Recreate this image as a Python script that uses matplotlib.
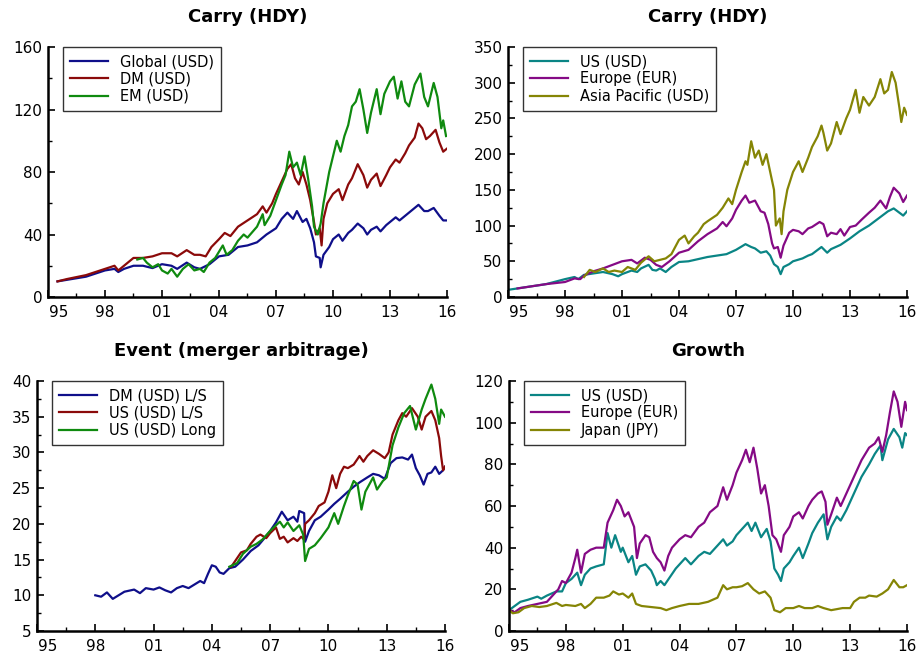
import matplotlib
matplotlib.use("Agg")
import matplotlib.pyplot as plt
from matplotlib.ticker import MultipleLocator, FuncFormatter
import numpy as np

# ---- Carry (HDY), left panel ----
glob_t = [1995.5, 1996, 1997, 1998, 1998.5, 1998.7, 1999, 1999.5, 2000, 2000.5, 2001, 2001.5, 2001.8,
          2002.3, 2002.7, 2003, 2003.5, 2004, 2004.5, 2005, 2005.5, 2006, 2006.5, 2007, 2007.3, 2007.6,
          2007.9, 2008.1, 2008.4, 2008.6, 2008.8, 2009.0, 2009.1, 2009.3, 2009.35, 2009.5, 2009.8, 2010,
          2010.3, 2010.5, 2010.8, 2011.0, 2011.3, 2011.6, 2011.8, 2012.0, 2012.3, 2012.5, 2012.8, 2013.0,
          2013.3, 2013.5, 2013.8, 2014.0, 2014.5, 2014.8, 2015.0, 2015.3, 2015.6, 2015.8, 2016]
glob_v = [10, 11, 13, 17, 18, 16, 18, 20, 20, 18.5, 21, 20, 18,
          22, 19, 18, 21, 26, 27, 32, 33, 35, 40, 44, 50, 54,
          50, 55, 48, 50, 44, 35, 26, 25, 19, 27, 32, 37,
          40, 36, 41, 43, 47, 44, 40, 43, 45, 42, 46, 48,
          51, 49, 52, 54, 59, 55, 55, 57, 52, 49, 49]

dm_t = [1995.5, 1996, 1997, 1997.5, 1998, 1998.5, 1998.7, 1999, 1999.5, 2000, 2000.5, 2001, 2001.5, 2001.8,
        2002.3, 2002.7, 2003, 2003.3, 2003.6, 2004, 2004.3, 2004.6, 2005, 2005.5, 2006, 2006.3, 2006.5,
        2006.8, 2007, 2007.3, 2007.6, 2007.8, 2008.0, 2008.2, 2008.4, 2008.6, 2008.8, 2009.0, 2009.1,
        2009.3, 2009.4, 2009.5, 2009.7, 2010, 2010.3, 2010.5, 2010.8, 2011.0, 2011.3, 2011.6, 2011.8,
        2012.0, 2012.3, 2012.5, 2012.8, 2013.0, 2013.3, 2013.5, 2013.8, 2014.0, 2014.3, 2014.5, 2014.7,
        2014.9, 2015.1, 2015.4, 2015.6, 2015.8, 2016]
dm_v = [10, 11.5, 14, 16, 18, 20, 17, 20, 25, 25, 26, 28, 28, 26,
        30, 27, 27, 26, 32, 37, 41, 39, 45, 49, 53, 58, 54,
        60, 66, 74, 82, 85, 76, 72, 80, 72, 62, 48, 40,
        44, 33, 50, 60, 66, 69, 62, 72, 76, 85, 78, 70,
        75, 79, 71, 78, 83, 88, 86, 92, 97, 102, 111, 108,
        101, 103, 107, 99, 93, 95]

em_t = [1999.7, 2000.0, 2000.2, 2000.5, 2000.8, 2001.0, 2001.3, 2001.5, 2001.8, 2002.1, 2002.4, 2002.7,
        2003.0, 2003.2, 2003.5, 2003.8, 2004.0, 2004.2, 2004.4, 2004.7, 2005.0, 2005.3, 2005.5, 2006,
        2006.3, 2006.4, 2006.7, 2007.0, 2007.3, 2007.5, 2007.7, 2007.9, 2008.1, 2008.3, 2008.5, 2008.7,
        2008.9, 2009.0, 2009.2, 2009.35, 2009.5, 2009.8, 2010.0, 2010.2, 2010.4, 2010.6, 2010.8, 2011.0,
        2011.2, 2011.4, 2011.6, 2011.8, 2012.0, 2012.3, 2012.5, 2012.7, 2013.0, 2013.2, 2013.4, 2013.6,
        2013.8, 2014.0, 2014.3, 2014.6, 2014.8, 2015.0, 2015.3, 2015.5, 2015.7, 2015.8, 2015.95]
em_v = [24, 25, 22, 19, 21, 17, 15, 18, 13, 18, 21, 17,
        18, 16, 22, 25, 29, 33, 27, 30, 36, 40, 38, 45,
        53, 46, 52, 62, 72, 78, 93, 83, 86, 78, 90, 75,
        58, 45, 40, 47, 60, 80, 90, 100, 93, 103, 110, 122,
        125, 133, 120, 105, 118, 133, 117, 130, 138, 141, 127, 138,
        125, 122, 136, 143, 128, 122, 137, 128, 108, 113, 103]

# ---- Carry (HDY), right panel ----
us_t = [1995.0, 1996, 1997, 1998, 1998.5, 1998.7, 1999, 1999.5, 2000, 2000.5, 2000.8, 2001, 2001.5,
        2001.8, 2002.0, 2002.4, 2002.6, 2002.8, 2003.0, 2003.3, 2003.6, 2004, 2004.5, 2005, 2005.5,
        2006, 2006.5, 2007, 2007.5, 2007.8, 2008.0, 2008.3, 2008.6, 2008.8, 2009.0, 2009.2, 2009.35,
        2009.5, 2009.8, 2010, 2010.5, 2010.8, 2011.0, 2011.5, 2011.8, 2012.0, 2012.5, 2013, 2013.5,
        2014, 2014.5, 2015, 2015.3, 2015.6, 2015.8, 2016]
us_v = [10, 14, 18, 25, 28, 25, 31, 33, 35, 32, 29, 32, 37,
        35, 40, 45, 38, 37, 40, 35, 42, 49, 50, 53, 56,
        58, 60, 66, 74, 70, 68, 62, 64, 58, 46, 42, 32,
        42, 46, 50, 54, 58, 60, 70, 62, 67, 73, 82, 92,
        100, 110, 120, 124, 118, 114, 120]

eu_t = [1995.5, 1996, 1997, 1998, 1998.5, 1998.8, 1999.0, 1999.5, 2000, 2000.5, 2001, 2001.5, 2001.8,
        2002.2, 2002.5, 2002.8, 2003.1, 2003.5, 2004, 2004.5, 2005, 2005.5, 2006, 2006.3, 2006.5, 2006.8,
        2007.0, 2007.3, 2007.5, 2007.7, 2008.0, 2008.3, 2008.5, 2008.7, 2008.9, 2009.0, 2009.2, 2009.35,
        2009.5, 2009.8, 2010.0, 2010.3, 2010.5, 2010.8, 2011.0, 2011.4, 2011.6, 2011.8, 2012.0, 2012.3,
        2012.5, 2012.7, 2013.0, 2013.3, 2013.6, 2014.0, 2014.3, 2014.6, 2014.9, 2015.1, 2015.3, 2015.6,
        2015.8, 2016]
eu_v = [12, 14, 18, 21, 26, 25, 30, 36, 40, 45, 50, 52, 47,
        55, 52, 45, 42, 50, 62, 66, 78, 88, 96, 105, 99, 110,
        122, 135, 142, 132, 135, 120, 118, 102, 75, 68, 70, 55,
        72, 90, 94, 92, 88, 96, 98, 105, 102, 85, 90, 88,
        95, 86, 98, 100, 108, 118, 125, 135, 124, 140, 153, 145,
        133, 142]

ap_t = [1999.0, 1999.3, 1999.6, 2000.0, 2000.3, 2000.6, 2001.0, 2001.3, 2001.7, 2002.0, 2002.4, 2002.7,
        2003.0, 2003.3, 2003.6, 2004.0, 2004.3, 2004.5, 2004.8, 2005.0, 2005.3, 2005.5, 2006.0, 2006.3,
        2006.6, 2006.8, 2007.0, 2007.3, 2007.5, 2007.6, 2007.8, 2008.0, 2008.2, 2008.4, 2008.6, 2008.8,
        2009.0, 2009.1, 2009.3, 2009.4, 2009.5, 2009.7, 2010.0, 2010.3, 2010.5, 2010.8, 2011.0, 2011.3,
        2011.5, 2011.6, 2011.8, 2012.0, 2012.3, 2012.5, 2012.8, 2013.0, 2013.3, 2013.5, 2013.7, 2014.0,
        2014.3, 2014.6, 2014.8, 2015.0, 2015.2, 2015.4, 2015.6, 2015.7, 2015.85, 2016]
ap_v = [28, 38, 35, 40, 35, 37, 35, 42, 38, 48, 57, 50,
        52, 54, 60, 80, 86, 75, 85, 90, 102, 106, 115, 125,
        138, 130, 150, 175, 190, 185, 218, 195, 205, 185, 200, 175,
        150, 100, 110, 88, 120, 150, 175, 190, 175, 195, 210, 225,
        240, 230, 205, 215, 245, 228, 250, 262, 290, 258, 280, 268,
        280, 305, 285, 290, 315, 300, 265, 245, 265, 255]

# ---- Event (merger arbitrage) ----
dmls_t = [1998.0, 1998.3, 1998.6, 1998.9, 1999.2, 1999.5, 2000.0, 2000.3, 2000.6, 2001.0, 2001.3, 2001.6,
          2001.9, 2002.2, 2002.5, 2002.8, 2003.1, 2003.4, 2003.6, 2003.8, 2004.0, 2004.2, 2004.4, 2004.6,
          2004.9, 2005.2, 2005.6, 2006.0, 2006.4, 2006.8, 2007.0, 2007.3, 2007.6, 2007.9, 2008.2, 2008.4,
          2008.5, 2008.75, 2008.8, 2009.0, 2009.3, 2009.6, 2010.0, 2010.3, 2010.6, 2011.0, 2011.3, 2011.6,
          2012.0, 2012.3, 2012.6, 2012.9, 2013.2, 2013.5, 2013.8, 2014.1, 2014.3, 2014.5, 2014.7, 2014.9,
          2015.1, 2015.3, 2015.5, 2015.7, 2015.9, 2016]
dmls_v = [10.0, 9.8, 10.4, 9.5, 10.0, 10.5, 10.8, 10.3, 11.0, 10.8, 11.1, 10.7,
          10.4, 11.0, 11.3, 11.0, 11.5, 12.0, 11.7, 13.0, 14.2, 14.0, 13.2, 13.0,
          13.8, 14.0, 15.0, 16.2, 17.0, 18.3, 19.0, 20.2, 21.7, 20.5, 21.0, 20.3,
          21.8, 21.5, 17.5, 19.0, 20.5, 21.0, 22.0, 22.8, 23.5, 24.5, 25.2, 25.8,
          26.5, 27.0, 26.8, 26.3, 28.5, 29.2, 29.3, 29.0, 29.7, 27.8, 26.8, 25.5,
          27.0, 27.2, 28.0, 27.0, 27.5, 28.0]

usls_t = [2005.0, 2005.2, 2005.5, 2005.8, 2006.0, 2006.3, 2006.5, 2006.8, 2007.0, 2007.3, 2007.5, 2007.7,
          2007.9, 2008.2, 2008.4, 2008.6, 2008.75, 2008.8, 2009.0, 2009.3, 2009.5, 2009.8, 2010.0, 2010.2,
          2010.4, 2010.6, 2010.8, 2011.0, 2011.3, 2011.6, 2011.8, 2012.0, 2012.3, 2012.6, 2012.9, 2013.1,
          2013.3, 2013.6, 2013.8, 2014.0, 2014.3, 2014.6, 2014.8, 2015.0, 2015.3, 2015.5, 2015.7, 2015.8,
          2015.9, 2016]
usls_v = [14.0, 14.8, 16.0, 16.3, 17.2, 18.2, 18.5, 18.0, 18.7, 19.5, 17.9, 18.2,
          17.4, 18.0, 17.6, 18.2, 17.8, 20.0, 20.5, 21.5, 22.5, 23.0, 24.5, 26.8,
          25.0, 27.0, 28.0, 27.8, 28.3, 29.5, 28.7, 29.5, 30.3, 29.8, 29.2, 30.0,
          32.5, 34.5, 35.5, 35.0, 36.2, 35.0, 33.2, 35.0, 35.8, 34.5, 32.0, 29.5,
          27.5, 28.0]

uslong_t = [2004.9, 2005.3, 2005.6, 2006.0, 2006.3, 2006.6, 2007.0, 2007.3, 2007.5, 2007.7, 2007.9, 2008.2,
            2008.5, 2008.7, 2008.8, 2009.0, 2009.3, 2009.6, 2010.0, 2010.3, 2010.5, 2010.8, 2011.0, 2011.3,
            2011.5, 2011.7, 2011.9, 2012.1, 2012.3, 2012.5, 2012.8, 2013.0, 2013.3, 2013.6, 2013.9, 2014.2,
            2014.5, 2014.8, 2015.0, 2015.3, 2015.5, 2015.7, 2015.8, 2016]
uslong_v = [14.0, 14.5, 15.8, 16.8, 17.2, 17.8, 19.0, 19.8, 20.3, 19.5, 20.2, 19.0,
            19.8, 18.5, 14.8, 16.5, 17.0, 18.0, 19.5, 21.5, 20.0, 22.5, 24.0, 26.0,
            25.5, 22.0, 24.5, 25.5, 26.5, 24.8, 26.0, 26.5, 31.0, 33.5, 35.5, 36.5,
            33.2, 36.0, 37.5, 39.5, 37.5, 34.0, 36.0, 35.0]

# ---- Growth ----
gus_t = [1995.0, 1995.3, 1995.6, 1996.0, 1996.5, 1996.7, 1997.0, 1997.5, 1997.8, 1998.0, 1998.3, 1998.6,
         1998.8, 1999.0, 1999.3, 1999.6, 2000.0, 2000.2, 2000.4, 2000.6, 2000.9, 2001.0, 2001.3, 2001.5,
         2001.7, 2001.9, 2002.2, 2002.5, 2002.7, 2002.8, 2003.0, 2003.2, 2003.5, 2003.8, 2004.0, 2004.3,
         2004.6, 2005.0, 2005.3, 2005.6, 2006.0, 2006.3, 2006.5, 2006.8, 2007.0, 2007.3, 2007.6, 2007.8,
         2008.0, 2008.3, 2008.6, 2008.8, 2009.0, 2009.2, 2009.35, 2009.5, 2009.8, 2010.0, 2010.3, 2010.5,
         2010.8, 2011.0, 2011.3, 2011.6, 2011.8, 2012.0, 2012.3, 2012.5, 2012.8, 2013.0, 2013.3, 2013.6,
         2014.0, 2014.3, 2014.6, 2014.7, 2015.0, 2015.3, 2015.6, 2015.75, 2015.9, 2016]
gus_v = [10, 12, 14, 15, 16.5, 15.5, 17, 19, 19, 23, 25, 28,
         22, 27, 30, 31, 32, 47, 40, 46, 38, 40, 33, 36,
         27, 31, 32, 29, 25, 22, 24, 22, 26, 30, 32, 35,
         32, 36, 38, 37, 41, 44, 41, 43, 46, 49, 52, 48,
         52, 45, 49, 43, 30, 27, 24, 30, 33, 36, 40, 35,
         42, 47, 52, 56, 44, 50, 55, 53, 58, 62, 68, 74,
         80, 85, 89, 82, 92, 97, 93, 88, 95, 94]

geu_t = [1995.0, 1995.3, 1995.6, 1996.0, 1996.5, 1997.0, 1997.3, 1997.6, 1997.8, 1998.0, 1998.3, 1998.5,
         1998.6, 1998.8, 1999.0, 1999.3, 1999.6, 2000.0, 2000.2, 2000.5, 2000.7, 2000.9, 2001.1, 2001.3,
         2001.6, 2001.75, 2001.9, 2002.2, 2002.4, 2002.6, 2002.8, 2003.0, 2003.2, 2003.4, 2003.6, 2004.0,
         2004.3, 2004.6, 2005.0, 2005.3, 2005.6, 2006.0, 2006.3, 2006.5, 2006.8, 2007.0, 2007.3, 2007.5,
         2007.7, 2007.9, 2008.1, 2008.3, 2008.5, 2008.7, 2008.9, 2009.1, 2009.35, 2009.5, 2009.8, 2010.0,
         2010.3, 2010.5, 2010.8, 2011.0, 2011.3, 2011.5, 2011.7, 2011.8, 2012.0, 2012.3, 2012.5, 2012.8,
         2013.0, 2013.3, 2013.6, 2014.0, 2014.3, 2014.5, 2014.7, 2014.9, 2015.1, 2015.3, 2015.5, 2015.7,
         2015.9, 2016]
geu_v = [10, 9, 11, 12, 13, 14, 17, 20, 24, 23, 28, 35,
         39, 28, 37, 39, 40, 40, 52, 58, 63, 60, 55, 57,
         50, 35, 42, 46, 45, 38, 35, 33, 29, 36, 40, 44,
         46, 45, 50, 52, 57, 60, 69, 63, 70, 76, 82, 87,
         81, 88, 78, 66, 70, 60, 46, 44, 38, 46, 50, 55,
         57, 54, 60, 63, 66, 67, 62, 51, 56, 64, 60, 66,
         70, 76, 82, 88, 90, 93, 86, 94, 105, 115, 110, 98,
         110, 106]

gjp_t = [1995.0, 1995.2, 1995.5, 1995.8, 1996.2, 1996.6, 1997.0, 1997.5, 1997.8, 1998.0, 1998.5, 1998.8,
         1999.0, 1999.3, 1999.6, 2000.0, 2000.3, 2000.5, 2000.8, 2001.0, 2001.3, 2001.5, 2001.7, 2002.0,
         2002.5, 2003.0, 2003.3, 2003.6, 2004.0, 2004.5, 2005.0, 2005.5, 2006.0, 2006.3, 2006.5, 2006.8,
         2007.0, 2007.3, 2007.6, 2007.9, 2008.2, 2008.5, 2008.8, 2009.0, 2009.3, 2009.6, 2010.0, 2010.3,
         2010.6, 2011.0, 2011.3, 2011.6, 2012.0, 2012.3, 2012.6, 2013.0, 2013.2, 2013.5, 2013.8, 2014.0,
         2014.4, 2014.7, 2015.0, 2015.3, 2015.6, 2015.8, 2016]
gjp_v = [10, 8.5, 9, 11, 12, 11.5, 12, 13.5, 12, 12.5, 12, 13,
         11, 13, 16, 16, 17, 19, 17.5, 18, 16, 18, 13, 12,
         11.5, 11, 10, 11, 12, 13, 13, 14, 16, 22, 20, 21,
         21, 21.5, 23, 20, 18, 19, 16, 10, 9, 11, 11, 12,
         11, 11, 12, 11, 10, 10.5, 11, 11, 14, 16, 16, 17,
         16.5, 18, 20, 24.5, 21, 21, 22]

titles = ["Carry (HDY)", "Carry (HDY)", "Event (merger arbitrage)", "Growth"]

W, H = 919, 653
fig = plt.figure(figsize=(W / 100, H / 100), dpi=100)
plt.rcParams['font.family'] = ['DejaVu Sans']


def px_axes(l, t, r, b):
    return fig.add_axes([l / W, (H - b) / H, (r - l) / W, (b - t) / H])


def year_fmt(x, p):
    # the 95 label is drawn separately, to the right of the spine
    if abs(x - 1995) < 0.01:
        return ""
    return f"{int(round(x)) % 100:02d}"


def style(ax, ymin, ymax, ymaj, ymin_step):
    ax.set_xlim(1995, 2016)
    ax.set_ylim(ymin, ymax)
    for s in ['top', 'right']:
        ax.spines[s].set_visible(False)
    for s in ['left', 'bottom']:
        ax.spines[s].set_linewidth(1.8)
    ax.xaxis.set_major_locator(MultipleLocator(3))
    ax.xaxis.set_minor_locator(MultipleLocator(1.5))
    ax.xaxis.set_major_formatter(FuncFormatter(year_fmt))
    ax.yaxis.set_major_locator(MultipleLocator(ymaj))
    ax.yaxis.set_minor_locator(MultipleLocator(ymin_step))
    ax.tick_params(which='major', direction='in', length=5, width=1.2, labelsize=11, pad=4)
    ax.tick_params(which='minor', direction='in', length=3, width=1.0)
    ax.tick_params(axis='x', pad=6)
    ax.annotate("95", xy=(1995, 0), xycoords=('data', 'axes fraction'),
                xytext=(1, -6), textcoords='offset points', ha='left', va='top',
                fontsize=11)


def legend(ax, w):
    lg = ax.legend(loc='upper left', bbox_to_anchor=(15 / w, 1.0), borderaxespad=0,
                   fancybox=False, framealpha=1, edgecolor='#333333', fontsize=10.5,
                   handlelength=2.6, handletextpad=0.8, labelspacing=0.15,
                   borderpad=0.5)
    lg.get_frame().set_linewidth(1.0)


lw = 1.6

ax1 = px_axes(48, 47, 447, 297)
ax1.plot(glob_t, glob_v, color='#0f0f8a', lw=lw, label='Global (USD)')
ax1.plot(dm_t, dm_v, color='#8b0a0a', lw=lw, label='DM (USD)')
ax1.plot(em_t, em_v, color='#0f8a0f', lw=lw, label='EM (USD)')
style(ax1, 0, 160, 40, 20)
legend(ax1, 399)

ax2 = px_axes(508, 47, 907, 297)
ax2.plot(us_t, us_v, color='#0a8585', lw=lw, label='US (USD)')
ax2.plot(eu_t, eu_v, color='#850a85', lw=lw, label='Europe (EUR)')
ax2.plot(ap_t, ap_v, color='#858505', lw=lw, label='Asia Pacific (USD)')
style(ax2, 0, 350, 50, 25)
legend(ax2, 399)

ax3 = px_axes(37, 381, 445, 631)
ax3.plot(dmls_t, dmls_v, color='#0f0f8a', lw=lw, label='DM (USD) L/S')
ax3.plot(usls_t, usls_v, color='#8b0a0a', lw=lw, label='US (USD) L/S')
ax3.plot(uslong_t, uslong_v, color='#0f8a0f', lw=lw, label='US (USD) Long')
style(ax3, 5, 40, 5, 2.5)
legend(ax3, 408)

ax4 = px_axes(509, 381, 907, 631)
ax4.plot(gus_t, gus_v, color='#0a8585', lw=lw, label='US (USD)')
ax4.plot(geu_t, geu_v, color='#850a85', lw=lw, label='Europe (EUR)')
ax4.plot(gjp_t, gjp_v, color='#858505', lw=lw, label='Japan (JPY)')
style(ax4, 0, 120, 20, 10)
legend(ax4, 398)

for ax, t in zip([ax1, ax2, ax3, ax4], titles):
    ax.set_title(t, fontsize=13, fontweight='bold', pad=18)

fig.savefig('out.png', dpi=100)
